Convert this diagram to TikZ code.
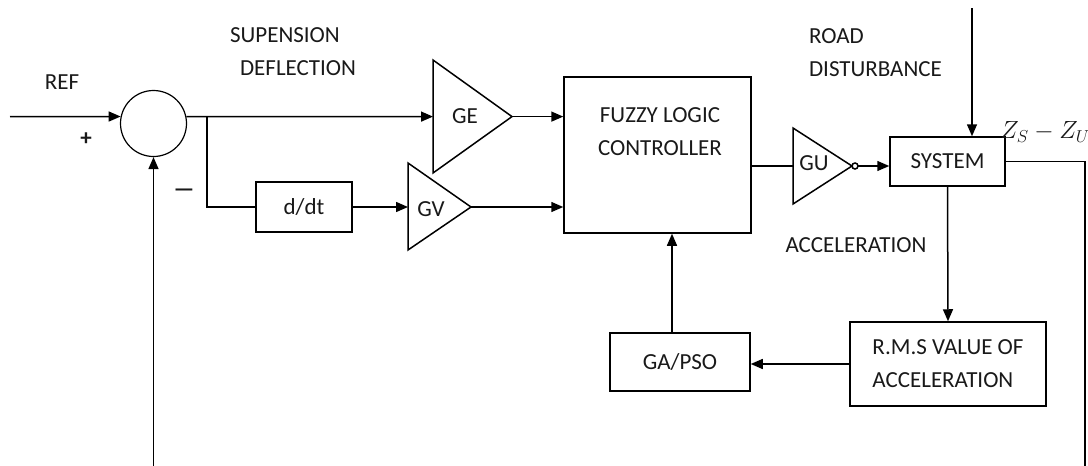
\documentclass[tikz,border=0pt]{standalone}
\usepackage{fontspec}
\setmainfont{Carlito}
\usetikzlibrary{arrows.meta}

\begin{document}
\begin{tikzpicture}[x=1pt,y=-1pt,->,>={Triangle[length=12pt,width=10pt]},line width=1.5pt,
  every node/.style={font=\fontsize{23}{33}\selectfont,text=black!90},
  block/.style={draw,rectangle,line width=1.5pt,inner sep=0pt},
  sum node/.style={draw,circle,minimum size=66pt,inner sep=0pt,line width=1.2pt},
  gain/.style={draw,line width=1.5pt,-}]

  \useasboundingbox (0,0) rectangle (1088,466);

  \node[sum node] (sum) at (153.5,123.5) {};
  \node[block,minimum width=96pt,minimum height=50pt]   (ddt) at (304,207) {d/dt};
  \node[block,minimum width=187pt,minimum height=156pt] (flc) at (657.5,155) {};
  \node[align=center] (flc-text) at (660,131.5) {FUZZY LOGIC\\CONTROLLER};
  \node[block,minimum width=115pt,minimum height=49pt]  (sys) at (947.5,161.5) {SYSTEM};
  \node[block,align=left,minimum width=196pt,minimum height=84pt] (rms) at (948,364) {R.M.S VALUE OF\\ACCELERATION};
  \node[block,minimum width=140pt,minimum height=58pt]  (ga) at (680,362) {GA/PSO};

  % gains
  \draw[gain] (433,60) -- (512,116.6) coordinate (ge-out) -- (433,173) -- cycle;
  \draw[gain] (408,163) -- (471,207) coordinate (gv-out) -- (408,250) -- cycle;
  \draw[gain] (793,128) -- (852,166) coordinate (gu-tip) -- (793,204) -- cycle;
  \draw[gain] (855,166) circle (3);
  \node (ge) at (465,116) {GE};
  \node (gv) at (431,209) {GV};
  \node (gu) at (814,163) {GU};

  \coordinate (ref)   at (10,116.6);
  \coordinate (br)    at (207,116.6);
  \coordinate (ge-in) at (433,116.6);
  \coordinate (gv-in) at (408,207);
  \coordinate (gu-in) at (793,166);
  \coordinate (gu-out) at (858,166);
  \coordinate (road)  at (972,8);
  \coordinate (out)   at (1085,466);
  \coordinate (fb)    at (153.5,466);

  % labels
  \node (ref-label) at (62,82) {REF};
  \node (plus) at (86,139) {\textbf{+}};
  \node (minus) at (184,193) {\textbf{---}};
  \node[anchor=west] (supension) at (226,35) {SUPENSION};
  \node[anchor=west] (deflection) at (236,68) {DEFLECTION};
  \node[anchor=west] (road-label) at (805,36) {ROAD};
  \node[anchor=west] (dist-label) at (805,69) {DISTURBANCE};
  \node (acc-label) at (856,245) {ACCELERATION};
  \node (zs) at (1045,132) {$Z_S - Z_U$};

  \draw (ref) -- (sum.168);
  \draw (sum.12) -- (ge-in);
  \draw[-] (br) |- (ddt.west);
  \draw (ddt.east) -- (gv-in);
  \draw (ge-out) -- (ge-out -| flc.west);
  \draw (gv-out) -- (gv-out -| flc.west);
  \draw[-] (flc.east |- gu-in) -- (gu-in);
  \draw (gu-out) -- (gu-out -| sys.west);
  \draw (road) -- (road |- sys.north);
  \draw[-] (sys.east) -| (out);
  \draw (sys.south) -- (rms.north);
  % back to the controller
  \draw (rms.west) -- (rms.west -| ga.east);
  \draw ([xshift=-8pt]ga.north) -- ([xshift=-8pt]ga.north |- flc.south);
  \draw (fb) -- (sum.south);

\end{tikzpicture}
\end{document}
